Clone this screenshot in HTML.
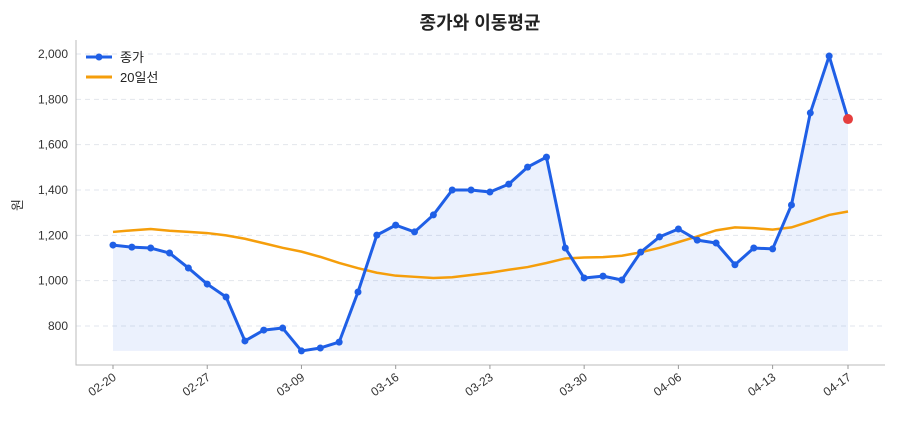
<!DOCTYPE html>
<html><head><meta charset="utf-8">
<style>
body{margin:0;background:#fff;}
svg text{font-family:"Liberation Sans","Noto Sans CJK KR",sans-serif;}
</style></head>
<body>
<svg id="chart" width="900" height="420" viewBox="0 0 900 420" xmlns="http://www.w3.org/2000/svg">
<text x="480" y="29" text-anchor="middle" font-size="18" font-weight="bold" fill="#222">종가와 이동평균</text>
<g id="grid"></g>
<g id="axes"></g>
<g id="series"></g>
<text transform="translate(22,205) rotate(-90)" text-anchor="middle" font-size="13" fill="#333">원</text>
<g>
<line x1="86" y1="57" x2="112" y2="57" stroke="#1f5fe6" stroke-width="3"/>
<circle cx="99" cy="57" r="3.5" fill="#1f5fe6"/>
<text x="120" y="62" font-size="13" fill="#222">종가</text>
<line x1="86" y1="77" x2="112" y2="77" stroke="#f59e0b" stroke-width="3"/>
<text x="120" y="82" font-size="13" fill="#222">20일선</text>
</g>
</svg>
<script>
const closes=[1157,1148,1144,1122,1056,985,928,734,782,791,690,703,729,950,1201,1245,1215,1290,1400,1400,1391,1426,1501,1545,1144,1012,1020,1003,1126,1193,1228,1179,1166,1070,1144,1140,1334,1740,1991,1713];
const ma20=[1215,1222,1228,1220,1215,1210,1200,1185,1165,1145,1128,1105,1078,1055,1035,1022,1017,1012,1015,1025,1035,1048,1060,1078,1098,1102,1104,1110,1125,1145,1170,1195,1222,1235,1232,1225,1235,1262,1290,1305];
const tickIdx=[0,5,10,15,20,25,30,35,39];
const tickLabels=["02-20","02-27","03-09","03-16","03-23","03-30","04-06","04-13","04-17"];
const yTicks=[800,1000,1200,1400,1600,1800,2000];
const NS="http://www.w3.org/2000/svg";
const L=76,R=885,T=40,B=365;
const x=i=>113+i*(848-113)/39;
const y=v=>326-(v-800)*272/1200;
function mk(tag,attrs,parent){const e=document.createElementNS(NS,tag);for(const k in attrs)e.setAttribute(k,attrs[k]);document.getElementById(parent).appendChild(e);return e;}
yTicks.forEach(v=>{
  const g=mk('line',{x1:L,x2:R,y1:y(v),y2:y(v),stroke:'#e2e6ec','stroke-dasharray':'5,4'},'grid');
  
  
  const t=mk('text',{x:L-8,y:y(v)+4,'text-anchor':'end','font-size':'12',fill:'#333'},'axes');
  t.textContent=v.toLocaleString('en-US');
  
  
});
const ax=mk('path',{d:`M${L},${T}V${B}H${R}`,stroke:'#bbb',fill:'none'},'axes');


tickIdx.forEach((i,k)=>{
  mk('line',{x1:x(i),x2:x(i),y1:B,y2:B+4,stroke:'#999'},'axes');
  const t=mk('text',{'text-anchor':'end','font-size':'12',fill:'#333',transform:`translate(${x(i)+4},${B+14}) rotate(-35)`},'axes');
  t.textContent=tickLabels[k];
  
  
});
const minV=Math.min(...closes);
let area=`M${x(0)},${y(minV)}`;closes.forEach((v,i)=>area+=`L${x(i)},${y(v)}`);area+=`L${x(closes.length-1)},${y(minV)}Z`;
const a=mk('path',{d:area,fill:'#1f5fe6','fill-opacity':'0.09',stroke:'none'},'series');


const m=mk('path',{d:ma20.map((v,i)=>(i?'L':'M')+x(i)+','+y(v)).join(''),fill:'none',stroke:'#f59e0b','stroke-width':'2.5'},'series');


const c=mk('path',{d:closes.map((v,i)=>(i?'L':'M')+x(i)+','+y(v)).join(''),fill:'none',stroke:'#1f5fe6','stroke-width':'3','stroke-linejoin':'round'},'series');


closes.forEach((v,i)=>{
  const last=i===closes.length-1;
  const p=mk('circle',{cx:x(i),cy:y(v),r:last?5:3.5,fill:last?'#e53e3e':'#1f5fe6'},'series');
  
  
});
</script>
</body></html>
